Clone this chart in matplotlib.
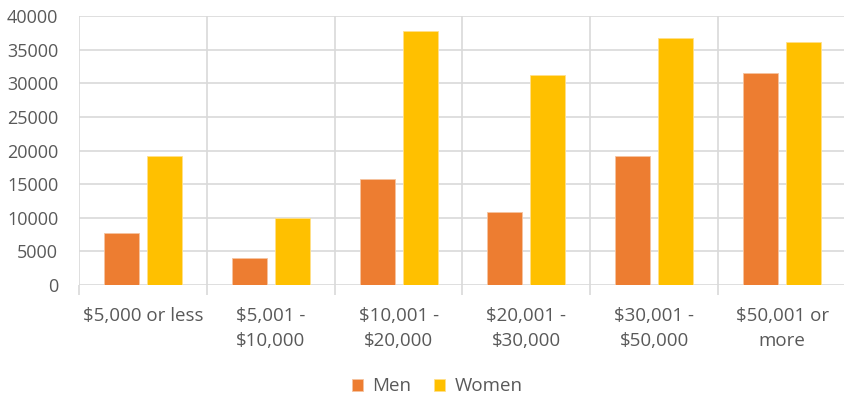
import matplotlib
import matplotlib.pyplot as plt
import numpy as np

matplotlib.use("Agg")

categories = ["$5,000 or less", "$5,001 -\n$10,000", "$10,001 -\n$20,000",
              "$20,001 -\n$30,000", "$30,001 -\n$50,000", "$50,001 or\nmore"]
men = [7700, 4000, 15800, 10900, 19200, 31500]
women = [19200, 10000, 37700, 31300, 36700, 36200]

MEN_COLOR = "#ED7D31"
WOMEN_COLOR = "#FFC000"
GRID = "#D9D9D9"
TEXT = "#595959"

plt.rcParams["font.family"] = ["Open Sans", "DejaVu Sans"]

fig = plt.figure(figsize=(8.45, 4.0), dpi=100)
ax = fig.add_axes([79 / 845, 1 - 285 / 400, (846 - 79) / 845, (285 - 16) / 400])

x = np.arange(len(categories))
bw = 0.273
off = 0.168
ax.bar(x - off, men, bw, color=MEN_COLOR, edgecolor="#F6C3A0", linewidth=0.6,
       label="Men", zorder=3)
ax.bar(x + off, women, bw, color=WOMEN_COLOR, edgecolor="#FFE08A", linewidth=0.6,
       label="Women", zorder=3)

ax.set_xlim(-0.5, len(categories) - 0.5)
ax.set_ylim(0, 40000)
ax.set_yticks(np.arange(0, 40001, 5000))
ax.tick_params(axis="y", length=0, pad=15, labelsize=13, labelcolor=TEXT)
ax.yaxis.grid(True, color=GRID, linewidth=1.2, zorder=0)

# category boundaries: vertical grid lines with ticks below the axis
ax.set_xticks(np.arange(len(categories) + 1) - 0.5, minor=False)
ax.set_xticklabels([])
ax.tick_params(axis="x", which="major", length=7, color=GRID, width=1.2)
ax.xaxis.grid(True, color=GRID, linewidth=1.2, zorder=0)
ax.set_xticks(x, minor=True)
ax.set_xticklabels(categories, minor=True, linespacing=1.5)
ax.tick_params(axis="x", which="minor", length=0, pad=16, labelsize=13.5,
               labelcolor=TEXT)

for s in ax.spines.values():
    s.set_visible(False)

leg = ax.legend(loc="upper center", bbox_to_anchor=(0.467, -0.28), ncol=2,
                frameon=False, fontsize=13.5, handlelength=0.6, handleheight=0.6,
                handletextpad=0.5, columnspacing=1.2)
for t in leg.get_texts():
    t.set_color(TEXT)

fig.savefig("out.png", dpi=100)
